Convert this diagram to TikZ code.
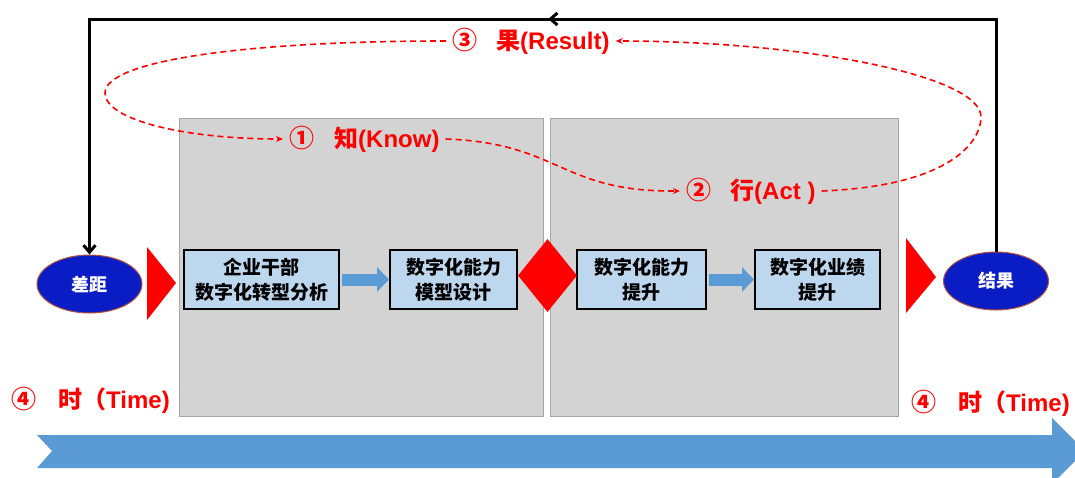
\documentclass[tikz,border=0pt]{standalone}
\usepackage{fontspec}
\setmainfont{Liberation Sans}
\newfontfamily\cjk{Noto Sans CJK SC}
\usetikzlibrary{shapes.geometric,arrows.meta,decorations.markings}
\definecolor{grayfill}{HTML}{D3D3D3}
\definecolor{grayline}{HTML}{A6A6A6}
\definecolor{boxfill}{HTML}{BDD7EE}
\definecolor{arrowblue}{HTML}{5B9BD5}
\definecolor{ovalblue}{HTML}{0A1CC4}
\definecolor{ovalline}{HTML}{B5533C}
\definecolor{lblred}{HTML}{FF0000}
\newcommand{\circnum}[1]{{\cjk\bfseries\fontsize{25}{28}\selectfont #1}}
\tikzset{
  panel/.style={rectangle, draw=grayline, fill=grayfill, line width=0.8pt, inner sep=0pt},
  stepbox/.style={rectangle, draw=black, line width=2pt, fill=boxfill, minimum height=59pt, inner sep=0pt,
    align=center, font=\cjk\bfseries\fontsize{19}{25}\selectfont},
  oval/.style={ellipse, fill=ovalblue, draw=ovalline, line width=1pt, minimum width=105pt, minimum height=58pt,
    inner sep=0pt, text=white, font=\cjk\bfseries\fontsize{18}{20}\selectfont},
  flow/.style={draw=arrowblue, line width=12pt, -{Triangle[length=12pt,width=24pt]}, shorten <=2pt},
  feedback/.style={draw=black, line width=3pt, -{Straight Barb[length=7pt,width=12pt]},
    decoration={markings, mark=at position 0.495 with {\arrow{Straight Barb[length=7pt,width=12pt]}}},
    postaction={decorate}},
  lbl/.style={text=lblred, inner sep=6pt, font=\bfseries\fontsize{24}{28}\selectfont},
  timelbl/.style={text=lblred, inner sep=6pt, font=\bfseries\fontsize{24}{28}\selectfont},
  redflow/.style={draw=lblred, line width=1.6pt, dash pattern=on 6pt off 4pt,
    -{Stealth[length=7pt,width=6pt]}}
}
\begin{document}
\begin{tikzpicture}[x=1pt,y=-1pt]
\useasboundingbox (0,0) rectangle (1075,477);

% panels
\node[panel, minimum width=364pt, minimum height=298pt] (p1) at (361,267) {};
\node[panel, minimum width=348pt, minimum height=298pt] (p2) at (724,267) {};

% time arrow
\fill[arrowblue] (37,435) -- (1052,435) -- (1052,418) -- (1085,451) -- (1052,484)
  -- (1052,468) -- (37,468) -- (52,451) -- cycle;

% step boxes
\node[stepbox, minimum width=155pt] (b1) at (261.5,279.5) {企业干部\\数字化转型分析};
\node[stepbox, minimum width=127pt] (b2) at (453.5,279.5) {数字化能力\\模型设计};
\node[stepbox, minimum width=129pt] (b3) at (641.5,279.5) {数字化能力\\提升};
\node[stepbox, minimum width=125pt] (b4) at (817.5,279.5) {数字化业绩\\提升};
\draw[flow] (b1) -- (b2);
\draw[flow] (b3) -- (b4);

% red markers
\node[diamond, fill=lblred, minimum width=59pt, minimum height=73pt, inner sep=0pt] (dm) at (547.5,275.5) {};
\fill[lblred] (147,247) -- (147,320) -- (176,283) -- cycle;
\fill[lblred] (906,238) -- (906,313) -- (936,277) -- cycle;

% ovals
\node[oval] (gap) at (89.5,284) {差距};
\node[oval] (res) at (996,281) {结果};

% feedback loop
\coordinate (topy) at (0,19);
\draw[feedback] (res.north) -- (res.north |- topy) -- (gap.north |- topy) -- (gap.north);

% labels
\node[lbl, anchor=west] (k3) at (446,41) {\circnum{③}\hspace{19pt}{\cjk\bfseries 果}(Result)};
\node[lbl, anchor=west] (k1) at (283,139) {\circnum{①}\hspace{20pt}{\cjk\bfseries 知}(Know)};
\node[lbl, anchor=west] (k2) at (680,191) {\circnum{②}\hspace{19pt}{\cjk\bfseries 行}(Act )};
\node[timelbl, anchor=west] (t1) at (5,400) {\circnum{④}\hspace{22pt}{\cjk\bfseries 时（}Time)};
\node[timelbl, anchor=west] (t2) at (905,403) {\circnum{④}\hspace{22pt}{\cjk\bfseries 时（}Time)};

% dashed cycle
\draw[redflow] (k3.west) .. controls (250,41) and (105,60) .. (105,93)
  .. controls (105,120) and (185,139) .. (k1.west);
\draw[redflow] (k1.east) .. controls (560,143) and (560,192) .. (k2.west);
\draw[redflow] (k2.east) .. controls (950,186) and (981,142) .. (981,117)
  .. controls (981,75) and (800,41) .. (k3.east);
\end{tikzpicture}
\end{document}
